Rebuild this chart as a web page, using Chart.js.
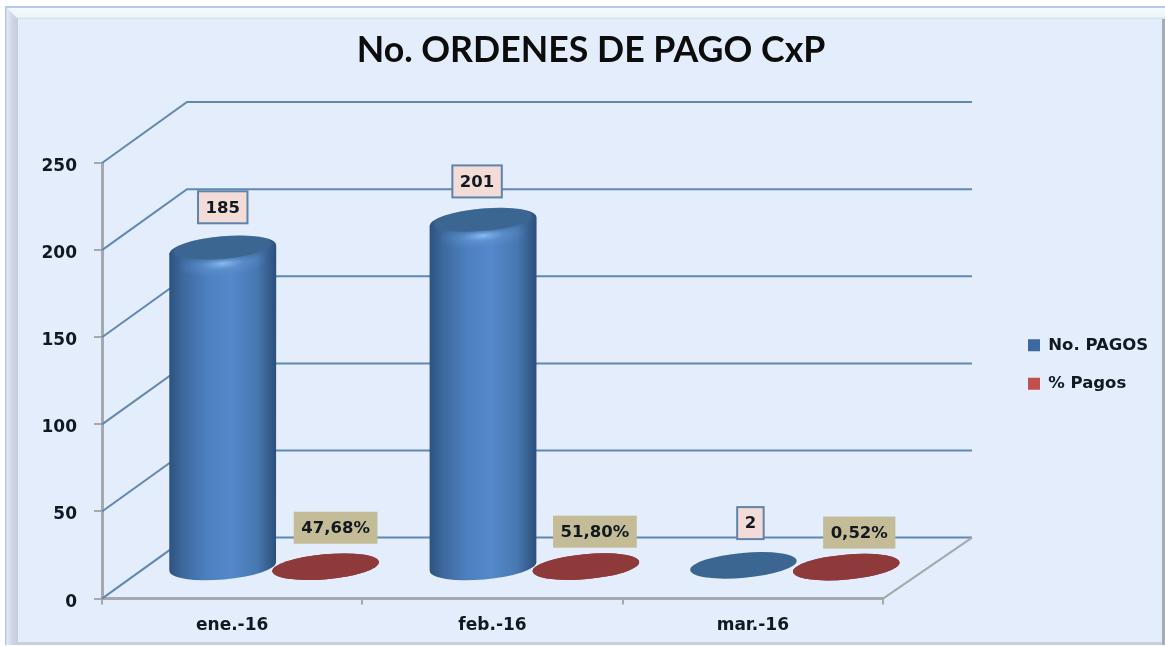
<!DOCTYPE html>
<html>
<head>
<meta charset="utf-8">
<style>
html,body{margin:0;padding:0;background:#fff;}
canvas{display:block;filter:blur(0.4px);}
</style>
<script src="https://cdn.jsdelivr.net/npm/chart.js@4/dist/chart.umd.min.js"></script>
</head>
<body>
<canvas id="c" width="1165" height="646"></canvas>
<script>
const categories = ['ene.-16', 'feb.-16', 'mar.-16'];
const noPagos = [185, 201, 2];
const pctPagos = [47.68, 51.80, 0.52];
const yTicks = [0, 50, 100, 150, 200, 250];
const titleText = 'No. ORDENES DE PAGO CxP';

const FONT = '"DejaVu Sans", sans-serif';
const DEPTH_X = 85, DEPTH_X_RIGHT = 89, DEPTH_Y = 61;  // oblique depth of the floor
const MID_X = 42, MID_Y = 31;                          // series sit half way through the depth
const TILT = -5 * Math.PI / 180;
const RY = 13;

function ellipse(ctx, cx, cy, rx, ry) {
  ctx.beginPath();
  ctx.ellipse(cx, cy, rx, ry, TILT, 0, Math.PI * 2);
}

class CylinderBar extends Chart.BarElement {
  draw(ctx) {
    const cx = this.x + MID_X;
    const rx = this.width / 2;
    const baseY = this.base - MID_Y;
    const topY = this.y - MID_Y + 4;
    const face = this.options.borderColor;
    ctx.save();
    if (baseY - topY < 8) {
      ellipse(ctx, cx, (baseY + this.y - MID_Y) / 2, rx, RY - 0.5);
      ctx.fillStyle = face;
      ctx.fill();
      ctx.restore();
      return;
    }
    const g = ctx.createLinearGradient(cx - rx, 0, cx + rx, 0);
    g.addColorStop(0, '#2c527f');
    g.addColorStop(0.12, '#3c689c');
    g.addColorStop(0.35, '#4d80bf');
    g.addColorStop(0.58, '#5488cb');
    g.addColorStop(0.82, '#4778b0');
    g.addColorStop(1, '#2b4f7a');
    ctx.fillStyle = g;
    ctx.beginPath();
    ctx.moveTo(cx - rx, topY + 4);
    ctx.lineTo(cx - rx, baseY + 4);
    ctx.ellipse(cx, baseY, rx, RY, TILT, Math.PI, 0, true);
    ctx.lineTo(cx + rx, topY - 4);
    ctx.closePath();
    ctx.fill();
    // rounded shoulder of the cap
    ellipse(ctx, cx, topY, rx, RY);
    ctx.fill();
    // soft highlight just under the cap
    ctx.save();
    ctx.translate(cx, topY + 14);
    ctx.rotate(TILT);
    ctx.scale(1, 0.3);
    const r = ctx.createRadialGradient(0, 0, 1, 0, 0, rx * 0.85);
    r.addColorStop(0, 'rgba(140,190,245,0.95)');
    r.addColorStop(0.45, 'rgba(100,150,210,0.5)');
    r.addColorStop(1, 'rgba(90,140,200,0)');
    ctx.fillStyle = r;
    ctx.beginPath();
    ctx.arc(0, 0, rx * 0.85, 0, Math.PI * 2);
    ctx.fill();
    ctx.restore();
    // flat face, clipped so that its soft edge stays on the cylinder
    ctx.save();
    ctx.beginPath();
    ctx.ellipse(cx, topY, rx, RY, TILT, Math.PI, 0, false);
    ctx.lineTo(cx + rx, baseY);
    ctx.lineTo(cx - rx, baseY);
    ctx.closePath();
    ctx.clip();
    ellipse(ctx, cx, topY - 1.5, rx - 5, RY - 2);
    ctx.fillStyle = face;
    ctx.shadowColor = face;
    ctx.shadowBlur = 5;
    ctx.fill();
    ctx.restore();
    ctx.restore();
  }
}
CylinderBar.id = 'cylinderBar';
CylinderBar.defaults = Chart.BarElement.defaults;
CylinderBar.defaultRoutes = Chart.BarElement.defaultRoutes;

class CylinderController extends Chart.BarController {}
CylinderController.id = 'cylinder';
CylinderController.defaults = Object.assign({}, Chart.BarController.defaults, { dataElementType: 'cylinderBar' });
CylinderController.overrides = Chart.BarController.overrides;
Chart.register(CylinderBar, CylinderController);

const framePlugin = {
  id: 'frame',
  beforeDraw(chart) {
    const ctx = chart.ctx;
    const L = 6, T = 7, R = 1165, B = 645, b = 11;
    ctx.save();
    ctx.fillStyle = '#e3edfc';
    ctx.fillRect(L, T, R - L, B - T);
    let g = ctx.createLinearGradient(L, 0, L + b + 1, 0);
    g.addColorStop(0, '#e6edf6');
    g.addColorStop(0.5, '#ced8e4');
    g.addColorStop(1, '#c3cedb');
    ctx.fillStyle = g;
    ctx.fillRect(L, T, b + 1, B - T);
    g = ctx.createLinearGradient(0, T, 0, T + b + 1);
    g.addColorStop(0, '#f6f9fe');
    g.addColorStop(0.8, '#eef4fb');
    g.addColorStop(1, '#d3dde9');
    ctx.fillStyle = g;
    ctx.beginPath();
    ctx.moveTo(L, T); ctx.lineTo(R, T); ctx.lineTo(R, T + b + 1); ctx.lineTo(L + b + 1, T + b + 1);
    ctx.closePath();
    ctx.fill();
    ctx.fillStyle = '#a6acb6';
    ctx.fillRect(R - 3, T + b + 1, 3, B - T - b - 1);
    ctx.fillStyle = '#c8d0da';
    ctx.fillRect(L + b + 1, B - 3, R - L - b - 4, 3);
    ctx.fillStyle = '#b4c9ea';
    ctx.fillRect(L, T - 1, R - L, 2);
    ctx.fillRect(L - 1, T - 1, 1.5, B - T + 1);
    ctx.restore();
    // value-axis labels sit slightly under their tick marks
    chart.scales.y.getLabelItems().forEach(it => { it.options.translation[1] += 3.5; });
  }
};

const wallsPlugin = {
  id: 'walls',
  beforeDatasetsDraw(chart) {
    const ctx = chart.ctx, ya = chart.scales.y, xa = chart.scales.x;
    const left = xa.left, right = xa.right;
    ctx.save();
    ctx.lineWidth = 2;
    ctx.strokeStyle = '#5f88b2';
    yTicks.forEach(v => {
      const y = ya.getPixelForValue(v);
      ctx.beginPath();
      ctx.moveTo(left, y);
      ctx.lineTo(left + DEPTH_X, y - DEPTH_Y);
      ctx.lineTo(right + DEPTH_X_RIGHT, y - DEPTH_Y);
      ctx.stroke();
    });
    const y0 = ya.getPixelForValue(0);
    ctx.strokeStyle = '#a5a8ac';
    ctx.beginPath();
    ctx.moveTo(right, y0);
    ctx.lineTo(right + DEPTH_X_RIGHT, y0 - DEPTH_Y);
    ctx.stroke();
    ctx.restore();
  }
};

const labelsPlugin = {
  id: 'valueBoxes',
  afterDatasetsDraw(chart, args, opts) {
    const ctx = chart.ctx;
    // the flat % discs lie in front of the cylinders
    chart.getDatasetMeta(1).data.forEach(el => el.draw(ctx));
    ctx.save();
    ctx.font = 'bold 16.5px ' + FONT;
    ctx.textAlign = 'center';
    ctx.textBaseline = 'middle';
    chart.data.datasets.forEach((ds, di) => {
      const style = opts.styles[di];
      chart.getDatasetMeta(di).data.forEach((el, i) => {
        const txt = style.format(ds.labelValues[i]);
        const w = ctx.measureText(txt).width + 15;
        const h = 32;
        const n = style.nudge[i];
        const cx = el.x + MID_X + n[0];
        const cy = el.y - MID_Y + n[1];
        ctx.fillStyle = style.fill;
        ctx.fillRect(cx - w / 2, cy - h / 2, w, h);
        if (style.stroke) {
          ctx.strokeStyle = style.stroke;
          ctx.lineWidth = 2;
          ctx.strokeRect(cx - w / 2, cy - h / 2, w, h);
        }
        ctx.fillStyle = '#111820';
        ctx.fillText(txt, cx, cy + 1);
      });
    });
    ctx.restore();
  }
};

const legendPlugin = {
  id: 'legendPlace',
  beforeLayout(chart) {
    const lg = chart.legend;
    if (lg && !lg.$wrapped) {
      const fit = lg.fit;
      lg.fit = function () { fit.call(this); this.width = 282; };
      lg.$wrapped = true;
    }
  },
  afterLayout(chart) {
    const lg = chart.legend;
    lg.left = 1006;
    lg.right = 1165;
    lg.top += 41;
    lg.bottom += 41;
    chart.titleBlock.left += 8.5;
    chart.titleBlock.right += 8.5;
  }
};

new Chart(document.getElementById('c'), {
  type: 'cylinder',
  data: {
    labels: categories,
    datasets: [
      { label: 'No. PAGOS', data: noPagos, labelValues: noPagos, backgroundColor: '#3a6a9f', borderColor: '#3b6692', borderWidth: 0, clip: false },
      { label: '% Pagos', data: pctPagos.map(p => p / 100), labelValues: pctPagos, backgroundColor: '#c0504d', borderColor: '#8e3a3a', borderWidth: 0, clip: false }
    ]
  },
  options: {
    responsive: false,
    animation: false,
    devicePixelRatio: 1,
    categoryPercentage: 0.79,
    barPercentage: 1.04,
    layout: { padding: { left: 0, right: 0, top: 0, bottom: -1 } },
    plugins: {
      title: {
        display: true,
        text: titleText,
        color: '#0c0c0c',
        font: { family: 'Lato', size: 35.7, weight: 'bold', lineHeight: 1.2 },
        padding: { top: 29, bottom: 91.2 }
      },
      legend: {
        display: true,
        position: 'right',
        align: 'center',
        labels: {
          boxWidth: 12,
          boxHeight: 12,
          padding: 22,
          color: '#111820',
          font: { family: FONT, size: 16.5, weight: 'bold' }
        }
      },
      tooltip: { enabled: false },
      valueBoxes: {
        styles: [
          { fill: '#f3dcd8', stroke: '#5f83aa', format: v => String(v), nudge: [[0, -38], [-6, -36], [7, -41]] },
          { fill: '#c4bc96', stroke: null, format: v => v.toFixed(2).replace('.', ',') + '%', nudge: [[10, -39], [9, -35], [13, -35]] }
        ]
      }
    },
    scales: {
      x: {
        offset: true,
        grid: { display: true, drawOnChartArea: false, drawTicks: true, tickLength: 6, color: '#a5a8ac', lineWidth: 2 },
        border: { display: true, color: '#a5a8ac', width: 3 },
        ticks: { color: '#111820', font: { family: FONT, size: 17, weight: 'bold' }, padding: 11, maxRotation: 0 }
      },
      y: {
        min: 0,
        max: 250,
        afterFit(s) { s.width = 102; },
        grid: { display: true, drawOnChartArea: false, drawTicks: true, tickLength: 8, color: '#a5a8ac', lineWidth: 2 },
        border: { display: true, color: '#a5a8ac', width: 3 },
        ticks: { stepSize: 50, color: '#111820', font: { family: FONT, size: 17, weight: 'bold' }, padding: 17 }
      }
    }
  },
  plugins: [framePlugin, wallsPlugin, labelsPlugin, legendPlugin]
});
</script>
</body>
</html>
